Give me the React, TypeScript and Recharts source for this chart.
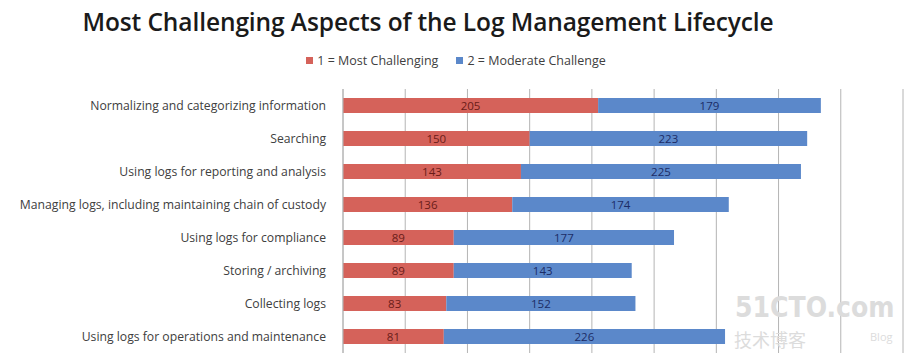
import { BarChart, Bar, XAxis, YAxis, CartesianGrid, LabelList } from 'recharts';

const categories = [
  'Normalizing and categorizing information',
  'Searching',
  'Using logs for reporting and analysis',
  'Managing logs, including maintaining chain of custody',
  'Using logs for compliance',
  'Storing / archiving',
  'Collecting logs',
  'Using logs for operations and maintenance'
];
const mostChallenging = [205, 150, 143, 136, 89, 89, 83, 81];
const moderateChallenge = [179, 223, 225, 174, 177, 143, 152, 226];
const xTicks = [0, 50, 100, 150, 200, 250, 300, 350, 400, 450];

const RED = '#D5625A';
const BLUE = '#5B88CA';
const FONT = '"Open Sans", "Liberation Sans", sans-serif';

const data = categories.map((name, i) => ({
  name,
  most: mostChallenging[i],
  moderate: moderateChallenge[i]
}));

const legendItems = [
  { label: '1 = Most Challenging', color: RED },
  { label: '2 = Moderate Challenge', color: BLUE }
];

function CategoryTick({ x, y, payload }: any) {
  return (
    <text x={x - 9} y={y} dy={4} textAnchor="end" fill="#404040" fontSize={12.2} fontFamily={FONT}>
      {payload.value}
    </text>
  );
}

export default function App() {
  return (
    <div style={{ position: 'relative', width: 914, height: 362, background: '#fff' }}>
      <style>{'body{margin:0}'}</style>
      <div
        style={{
          position: 'absolute',
          top: 5,
          left: 0,
          width: 856,
          textAlign: 'center',
          fontFamily: FONT,
          fontWeight: 600,
          fontSize: 24.5,
          letterSpacing: -0.1,
          color: '#1a1a1a'
        }}
      >
        Most Challenging Aspects of the Log Management Lifecycle
      </div>
      <div
        style={{
          position: 'absolute',
          top: 52,
          left: 0,
          width: 912,
          display: 'flex',
          justifyContent: 'center',
          gap: 18,
          fontFamily: FONT,
          fontSize: 12.5,
          color: '#404040'
        }}
      >
        {legendItems.map((it) => (
          <div key={it.label} style={{ display: 'flex', alignItems: 'center', gap: 4 }}>
            <span style={{ width: 7, height: 7, background: it.color, display: 'inline-block' }} />
            <span>{it.label}</span>
          </div>
        ))}
      </div>
      <BarChart
        layout="vertical"
        width={914}
        height={362}
        data={data}
        margin={{ top: 89, right: 11, bottom: 9, left: 0 }}
      >
        <CartesianGrid horizontal={false} stroke="#b4b4b4" />
        <XAxis type="number" domain={[0, 450]} ticks={xTicks} hide />
        <YAxis
          type="category"
          dataKey="name"
          width={343}
          tickLine={false}
          axisLine={{ stroke: '#b4b4b4' }}
          tick={<CategoryTick />}
          interval={0}
        />
        <Bar dataKey="most" stackId="a" fill={RED} barSize={15} isAnimationActive={false}>
          <LabelList dataKey="most" position="center" fill="#6a1c18" fontSize={11.5} fontFamily={FONT} />
        </Bar>
        <Bar dataKey="moderate" stackId="a" fill={BLUE} barSize={15} isAnimationActive={false}>
          <LabelList dataKey="moderate" position="center" fill="#1c2c66" fontSize={11.5} fontFamily={FONT} />
        </Bar>
      </BarChart>
      <div style={{ position: 'absolute', left: 735, top: 291, fontFamily: '"DejaVu Sans Condensed", sans-serif', fontWeight: 700, fontSize: 28, color: '#dcdcdc' }}>
        51CTO.com
      </div>
      <div style={{ position: 'absolute', left: 734, top: 326, fontFamily: '"Noto Sans CJK SC", sans-serif', fontSize: 18, color: '#dcdcdc' }}>
        技术博客
      </div>
      <div style={{ position: 'absolute', left: 870, top: 329, fontFamily: FONT, fontSize: 11, color: '#dcdcdc' }}>
        Blog
      </div>
    </div>
  );
}
